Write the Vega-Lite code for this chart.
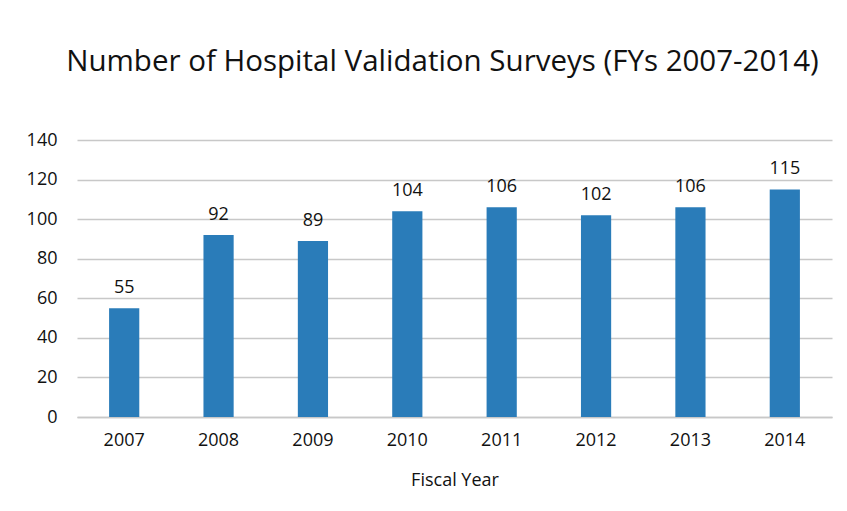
{
  "$schema": "https://vega.github.io/schema/vega-lite/v6.json",
  "width": 755,
  "height": 277,
  "autosize": {"type": "none"},
  "padding": {"left": 77, "top": 140, "right": 15, "bottom": 94},
  "background": "white",
  "title": {
    "text": "Number of Hospital Validation Surveys (FYs 2007-2014)",
    "font": "Open Sans",
    "fontSize": 29.5,
    "fontWeight": "normal",
    "color": "#111111",
    "anchor": "middle",
    "frame": "group",
    "offset": 54,
    "dx": -12
  },
  "data": {
    "values": [
      {"year": "2007", "surveys": 55},
      {"year": "2008", "surveys": 92},
      {"year": "2009", "surveys": 89},
      {"year": "2010", "surveys": 104},
      {"year": "2011", "surveys": 106},
      {"year": "2012", "surveys": 102},
      {"year": "2013", "surveys": 106},
      {"year": "2014", "surveys": 115}
    ]
  },
  "encoding": {
    "x": {
      "field": "year",
      "type": "nominal",
      "scale": {"paddingInner": 0.68, "paddingOuter": 0.34},
      "axis": {
        "title": "Fiscal Year",
        "labelAngle": 0,
        "labelFont": "Open Sans",
        "labelFontSize": 18,
        "labelColor": "#111111",
        "labelPadding": 14,
        "titleFont": "Open Sans",
        "titleFontSize": 18,
        "titleFontWeight": "normal",
        "titleColor": "#111111",
        "titlePadding": 22,
        "ticks": false,
        "domainColor": "#c8c8c8",
        "domainWidth": 1.5
      }
    },
    "y": {
      "field": "surveys",
      "type": "quantitative",
      "scale": {"domain": [0, 140]},
      "axis": {
        "title": null,
        "values": [0, 20, 40, 60, 80, 100, 120, 140],
        "labelFont": "Open Sans",
        "labelFontSize": 18,
        "labelColor": "#111111",
        "labelPadding": 20,
        "ticks": false,
        "domain": false,
        "gridColor": "#c8c8c8",
        "gridWidth": 1.5
      }
    }
  },
  "layer": [
    {"mark": {"type": "bar", "color": "#2a7cb9"}},
    {
      "mark": {"type": "text", "dy": -20, "font": "Open Sans", "fontSize": 18, "color": "#111111"},
      "encoding": {"text": {"field": "surveys", "type": "quantitative"}}
    }
  ],
  "config": {"view": {"stroke": null}}
}
